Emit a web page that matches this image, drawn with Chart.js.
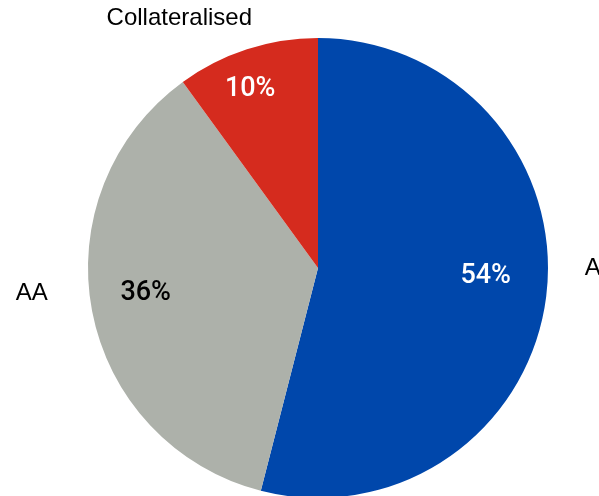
<!DOCTYPE html>
<html><head><meta charset="utf-8">
<script src="https://cdn.jsdelivr.net/npm/chart.js@4.4.1/dist/chart.umd.min.js"></script>
<style>html,body{margin:0;padding:0;background:#fff;overflow:hidden;width:599px;height:496px}#wrap{width:599px;height:500px;position:relative}</style>
</head><body>
<div id="wrap"><canvas id="c"></canvas></div>
<script>
const categories = ["AAA", "AA", "Collateralised"];
const shares = [54, 36, 10];
const sliceColors = ["#0047AB", "#ADB1AA", "#D52B1E"];
const pctColors = ["#ffffff", "#000000", "#ffffff"];
// label placement style (angle shift in degrees, radius fraction)
const pctAngleShift = [-4.5, 2.5, -2.8];
const pctRadius = [0.73, 0.757, 0.83];
const catAngleShift = [-7.2, 5.5, -11.1];
const catRadius = [1.16, 1.18, 1.24];
const catAlign = ["left", "right", "center"];

const labelPlugin = {
  id: 'labels',
  afterDatasetsDraw(chart) {
    const ctx = chart.ctx;
    const meta = chart.getDatasetMeta(0);
    meta.data.forEach((arc, i) => {
      const p = arc.getProps(['x','y','startAngle','endAngle','outerRadius'], true);
      const mid = (p.startAngle + p.endAngle) / 2;
      let a = mid + pctAngleShift[i] * Math.PI / 180;
      let r = p.outerRadius * pctRadius[i];
      ctx.save();
      ctx.font = '500 27px Roboto, "Liberation Sans", Arial, sans-serif';
      ctx.fillStyle = pctColors[i];
      ctx.textAlign = 'center';
      ctx.textBaseline = 'middle';
      ctx.fillText(shares[i] + '%', p.x + r * Math.cos(a), p.y + r * Math.sin(a));
      a = mid + catAngleShift[i] * Math.PI / 180;
      r = p.outerRadius * catRadius[i];
      ctx.font = '24px "Liberation Sans", Arial, sans-serif';
      ctx.fillStyle = '#000';
      ctx.textAlign = catAlign[i];
      ctx.fillText(categories[i], p.x + r * Math.cos(a), p.y + r * Math.sin(a));
      ctx.restore();
    });
  }
};

new Chart(document.getElementById('c'), {
  type: 'pie',
  data: { labels: categories, datasets: [{ data: shares, backgroundColor: sliceColors, borderWidth: 0 }] },
  options: {
    responsive: true, maintainAspectRatio: false, animation: false,
    layout: { padding: { left: 88, right: 51, top: 38, bottom: 2 } },
    plugins: { legend: { display: false }, tooltip: { enabled: false } }
  },
  plugins: [labelPlugin]
});
</script>
</body></html>
